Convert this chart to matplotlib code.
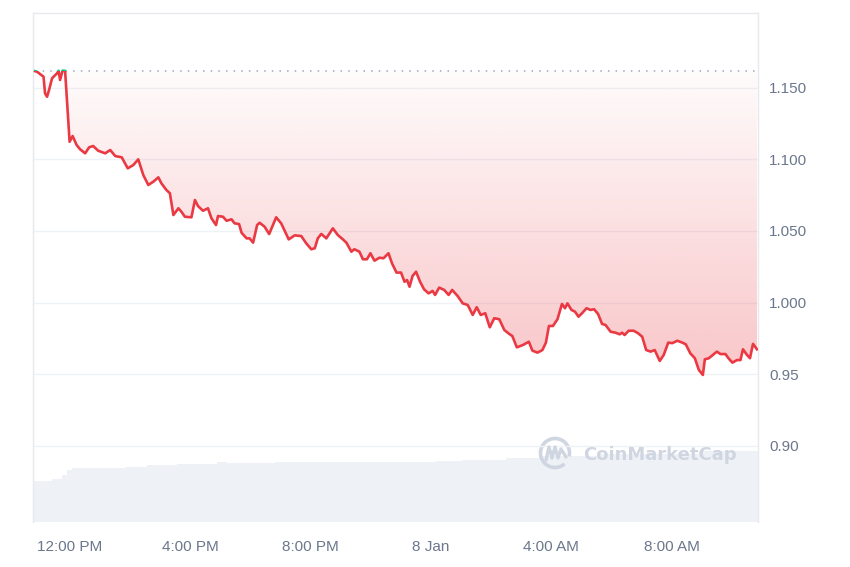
import numpy as np
import matplotlib
matplotlib.use("Agg")
import matplotlib.pyplot as plt
from matplotlib.patches import Arc, Rectangle
from matplotlib.lines import Line2D

plt.rcParams['font.family'] = ['Liberation Sans', 'DejaVu Sans']

# ---- data: minutes after 12:00 PM (7 Jan), price in USD ----
minutes = [-70, -66, -60, -53, -50, -46, -42, -36, -26, -23, -20, -15, -10, -1, 5, 13, 20, 30, 38, 46,
           56, 70, 80, 90, 103, 115, 126, 136, 146, 156, 166, 176, 182, 192, 199, 206, 216, 222, 229, 242,
           249, 255, 265, 275, 282, 291, 295, 305, 312, 322, 328, 337, 342, 352, 358, 365, 373, 378, 388, 397,
           403, 411, 421, 436, 448, 461, 471, 481, 488, 494, 501, 511, 524, 534, 544, 551, 561, 567, 577, 584,
           592, 599, 607, 617, 625, 635, 642, 651, 660, 667, 672, 677, 683, 690, 698, 706, 715, 723, 728, 736,
           746, 755, 762, 773, 783, 793, 803, 811, 819, 828, 837, 846, 856, 866, 876, 882, 891, 903, 915, 922,
           932, 942, 949, 955, 963, 972, 981, 987, 992, 1000, 1007, 1014, 1021, 1030, 1038, 1045, 1053, 1061, 1068, 1078,
           1088, 1096, 1101, 1106, 1114, 1124, 1133, 1141, 1149, 1158, 1166, 1176, 1184, 1193, 1201, 1211, 1221, 1228, 1237, 1246,
           1254, 1262, 1266, 1274, 1282, 1290, 1297, 1307, 1313, 1321, 1330, 1337, 1342, 1350, 1356, 1362, 1370]
prices = [1.1616, 1.1612, 1.1596, 1.1577, 1.1461, 1.1437, 1.1484, 1.1566, 1.1601, 1.1619, 1.1554, 1.1620, 1.1618, 1.1123, 1.1163, 1.1100, 1.1070, 1.1042, 1.1084, 1.1093,
          1.1060, 1.1042, 1.1065, 1.1023, 1.1014, 1.0937, 1.0960, 1.1000, 1.0890, 1.0821, 1.0844, 1.0874, 1.0833, 1.0786, 1.0763, 1.0611, 1.0658, 1.0634, 1.0599, 1.0595,
          1.0716, 1.0674, 1.0641, 1.0658, 1.0588, 1.0541, 1.0604, 1.0599, 1.0571, 1.0581, 1.0553, 1.0548, 1.0487, 1.0448, 1.0448, 1.0418, 1.0541, 1.0557, 1.0529, 1.0478,
          1.0529, 1.0595, 1.0553, 1.0441, 1.0469, 1.0464, 1.0413, 1.0372, 1.0379, 1.0448, 1.0479, 1.0448, 1.0518, 1.0471, 1.0441, 1.0418, 1.0355, 1.0372, 1.0355, 1.0302,
          1.0302, 1.0344, 1.0292, 1.0313, 1.0309, 1.0344, 1.0274, 1.0209, 1.0209, 1.0145, 1.0157, 1.0110, 1.0185, 1.0215, 1.0145, 1.0092, 1.0064, 1.0081, 1.0053, 1.0104,
          1.0088, 1.0053, 1.0088, 1.0045, 0.9994, 0.9983, 0.9913, 0.9967, 0.9913, 0.9925, 0.9827, 0.9890, 0.9883, 0.9808, 0.9780, 0.9766, 0.9687, 0.9703, 0.9726, 0.9664,
          0.9650, 0.9668, 0.9720, 0.9836, 0.9836, 0.9883, 0.9990, 0.9960, 0.9994, 0.9948, 0.9936, 0.9901, 0.9925, 0.9960, 0.9948, 0.9953, 0.9920, 0.9850, 0.9843, 0.9796,
          0.9789, 0.9778, 0.9789, 0.9773, 0.9803, 0.9803, 0.9785, 0.9761, 0.9668, 0.9657, 0.9668, 0.9592, 0.9634, 0.9720, 0.9716, 0.9733, 0.9720, 0.9708, 0.9645, 0.9611,
          0.9529, 0.9494, 0.9603, 0.9611, 0.9634, 0.9657, 0.9640, 0.9640, 0.9611, 0.9580, 0.9598, 0.9598, 0.9673, 0.9634, 0.9611, 0.9711, 0.9673]

# volume (step segments): start minute of each segment, and level
vol_start = [-74, -36, -16, -6, 4, 109, 153, 213, 293, 312, 408, 637, 730, 782, 870, 935, 1055, 1254]
vol_level = [8.1, 8.4, 9.2, 10.2, 10.6, 10.9, 11.2, 11.4, 11.7, 11.5, 11.7, 11.8, 12.0, 12.1, 12.6, 12.9, 13.4, 13.9]
vol_end = 1372

tick_minutes = [0, 240, 480, 720, 960, 1200]
tick_labels = ['12:00 PM', '4:00 PM', '8:00 PM', '8 Jan', '4:00 AM', '8:00 AM']
y_ticks = [0.90, 0.95, 1.000, 1.050, 1.100, 1.150]
y_tick_labels = ['0.90', '0.95', '1.000', '1.050', '1.100', '1.150']

RED = '#ea3943'
GREEN = '#16c784'
TXT = '#6b778c'

W, H = 850, 567
fig = plt.figure(figsize=(W / 100, H / 100), dpi=100)
ax = fig.add_axes([33 / W, 1 - 522 / H, (758 - 33) / W, (522 - 13) / H])

xmin, xmax = -74, 1372
ymin, ymax = 0.8467, 1.2022
ax.set_xlim(xmin, xmax)
ax.set_ylim(ymin, ymax)

# volume on twin axis
axv = ax.twinx()
axv.set_ylim(0, 100)
axv.set_xlim(xmin, xmax)
widths = [b - a for a, b in zip(vol_start, vol_start[1:] + [vol_end])]
axv.bar(vol_start, vol_level, width=widths, align='edge', color='#eef1f5', edgecolor='none', zorder=1)
axv.set_yticks([])
for s in axv.spines.values():
    s.set_visible(False)
ax.set_zorder(axv.get_zorder() + 1)
ax.patch.set_visible(False)

base = prices[0]
t = np.array(minutes, dtype=float)
p = np.array(prices)

# gradient fill between baseline and line
poly = ax.fill_between(t, p, base, color='none', lw=0)
grad_y = np.linspace(ymin, base, 256)
alpha = np.clip(0.02 + (base - grad_y) / (base - 0.949) * 0.27, 0, 0.32)
img = np.zeros((256, 2, 4))
img[..., 0] = 234 / 255
img[..., 1] = 57 / 255
img[..., 2] = 67 / 255
img[..., 3] = alpha[:, None]
im = ax.imshow(img, extent=[t[0], t[-1], ymin, base], origin='lower', aspect='auto', zorder=2, interpolation='bilinear')
im.set_clip_path(poly.get_paths()[0], transform=ax.transData)

# baseline dotted
ax.plot([t[0], xmax], [base, base], color='#a1a7bb', lw=1.1, ls=(0, (1, 4)), zorder=3)

# line: red below baseline, green above
red_line, = ax.plot(t, p, color=RED, lw=1.9, zorder=4, solid_joinstyle='round')
red_line.set_clip_path(Rectangle((xmin, ymin), xmax - xmin, base - ymin, transform=ax.transData))
green_line, = ax.plot(t, p, color=GREEN, lw=1.9, zorder=4, solid_joinstyle='round')
green_line.set_clip_path(Rectangle((xmin, base), xmax - xmin, ymax - base, transform=ax.transData))

# grid and ticks
ax.set_yticks(y_ticks)
ax.set_yticklabels(y_tick_labels)
ax.yaxis.tick_right()
ax.grid(axis='y', color='#eff2f5', lw=1.0, zorder=0)
ax.set_xticks(tick_minutes)
ax.set_xticklabels(tick_labels)
ax.tick_params(axis='both', length=0, labelsize=11, labelcolor=TXT)
ax.tick_params(axis='y', pad=8)
ax.tick_params(axis='x', pad=13)

for side in ['top', 'left', 'right']:
    ax.spines[side].set_color('#e6e9ee')
    ax.spines[side].set_linewidth(1.0)
ax.spines['bottom'].set_visible(False)

# watermark
WM = '#d0d6e1'
def fx(x):
    return x / W
def fy(y):
    return 1 - y / H
fig.text(fx(583), fy(455), 'CoinMarketCap', color=WM, fontsize=13, fontweight='bold',
         family=['DejaVu Sans'], va='center', ha='left')
arc = Arc((fx(555), fy(453)), 29 / W, 29 / H, theta1=-20, theta2=300, color=WM, lw=2.6,
          transform=fig.transFigure)
fig.add_artist(arc)
wx = [546, 549, 552, 555, 558, 561, 566]
wy = [460, 447, 458, 447, 458, 449, 457]
fig.add_artist(Line2D([fx(v) for v in wx], [fy(v) for v in wy], color=WM, lw=2.4,
                      transform=fig.transFigure, solid_joinstyle='round', solid_capstyle='round'))

fig.savefig('out.png', dpi=100, facecolor='white')
